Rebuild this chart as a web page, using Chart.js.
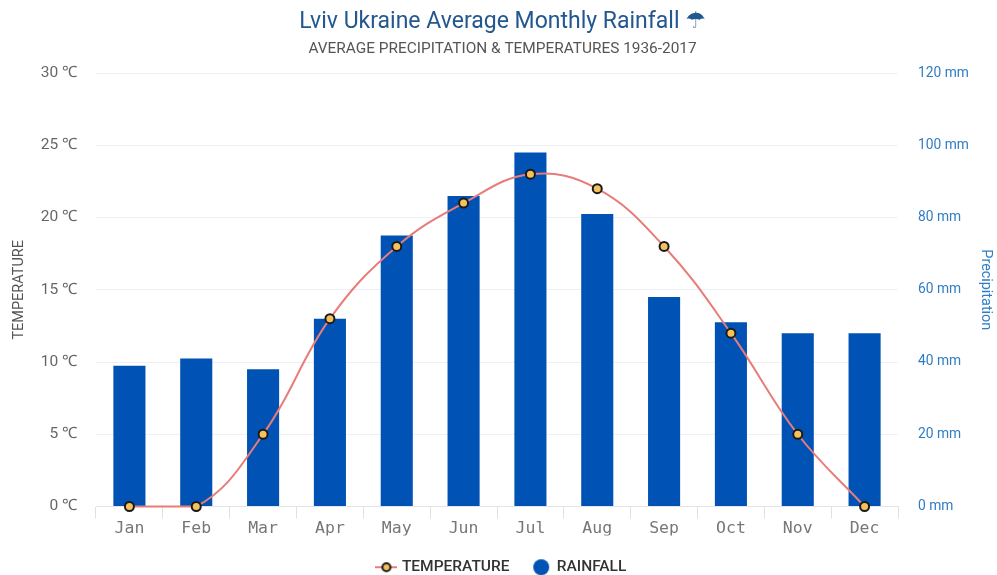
<!DOCTYPE html>
<html>
<head>
<meta charset="utf-8">
<style>html,body{margin:0;padding:0;background:#fff}canvas{display:block;filter:blur(0.4px)}</style>
<script src="https://cdn.jsdelivr.net/npm/chart.js@4"></script>
</head>
<body>
<canvas id="c" width="997" height="575"></canvas>
<script>
const months = ["Jan","Feb","Mar","Apr","May","Jun","Jul","Aug","Sep","Oct","Nov","Dec"];
const temperature = [0,0,5,13,18,21,23,22,18,12,5,0];
const rainfall = [39,41,38,52,75,86,98,81,58,51,48,48];
const titleText = "Lviv Ukraine Average Monthly Rainfall \u2602";
const subtitleText = "AVERAGE PRECIPITATION & TEMPERATURES 1936-2017";

function legendLineIcon(){
  const c=document.createElement('canvas');c.width=22;c.height=14;
  const g=c.getContext('2d');
  g.strokeStyle='#e87c78';g.lineWidth=2;g.beginPath();g.moveTo(0,7);g.lineTo(22,7);g.stroke();
  g.fillStyle='#f4c15d';g.strokeStyle='#1a1a1a';g.lineWidth=2;g.beginPath();g.arc(11,7,4,0,Math.PI*2);g.fill();g.stroke();
  return c;
}
function legendDotIcon(){
  const c=document.createElement('canvas');c.width=18;c.height=18;
  const g=c.getContext('2d');
  g.fillStyle='#0052b4';g.beginPath();g.arc(9,9,8,0,Math.PI*2);g.fill();
  return c;
}
new Chart(document.getElementById('c'),{
  data:{labels:months,datasets:[
    {type:'line',label:'TEMPERATURE',data:temperature,yAxisID:'y',order:0,borderColor:'#e87c78',borderWidth:2,tension:0.4,
     pointRadius:4.5,pointHoverRadius:4.5,pointBackgroundColor:'#f4c15d',pointBorderColor:'#1a1a1a',pointBorderWidth:2,clip:false,pointStyle:'circle'},
    {type:'bar',label:'RAINFALL',data:rainfall,yAxisID:'y1',order:1,backgroundColor:'#0052b4',barPercentage:0.48,categoryPercentage:1}
  ]},
  options:{
    responsive:false,animation:false,
    layout:{padding:{left:11,right:3,top:0,bottom:-10}},
    plugins:{
      title:{display:true,text:titleText,color:'#22578f',font:{family:'Roboto, "DejaVu Sans"',size:23,weight:'normal'},padding:{top:8,bottom:4}},
      subtitle:{display:true,text:subtitleText,color:'#555',font:{family:'Roboto',size:15.4,weight:'normal'},padding:{top:0,bottom:15}},
      legend:{position:'bottom',labels:{usePointStyle:true,boxHeight:14,padding:24,color:'#333',font:{family:'Roboto',size:15.5,weight:'500'},
        generateLabels(ch){return [
          {text:'TEMPERATURE',pointStyle:legendLineIcon(),fontColor:'#333',datasetIndex:0,lineWidth:0,strokeStyle:'transparent',fillStyle:'transparent'},
          {text:'RAINFALL',pointStyle:legendDotIcon(),fontColor:'#333',datasetIndex:1,lineWidth:0,strokeStyle:'transparent',fillStyle:'transparent'}
        ];}}},
      tooltip:{enabled:false}
    },
    scales:{
      x:{grid:{drawOnChartArea:false,drawTicks:true,tickLength:12,color:'#dfdfe6',offset:true},border:{color:'#e3e3ea'},
         ticks:{color:'#777',padding:0,maxRotation:0,font:{family:'"DejaVu Sans Mono","Liberation Mono",monospace',size:16.5}},
         afterFit(s){s.height=29;}},
      y:{position:'left',min:0,max:30,grid:{color:'#eef0f3',drawTicks:false},border:{display:false},
         title:{display:true,text:'TEMPERATURE',color:'#555',font:{family:'Roboto',size:14.5},padding:{top:0,bottom:0}},
         ticks:{stepSize:5,padding:19,color:'#666',font:{family:'Roboto',size:15.5},callback:v=>v+' \u2103'},
         afterFit(s){s.width=85;}},
      y1:{position:'right',min:0,max:120,grid:{drawOnChartArea:false,drawTicks:false},border:{display:false},
         title:{display:true,text:'Precipitation',color:'#2f7dc4',font:{family:'Roboto',size:14.4},padding:{top:0,bottom:0}},
         ticks:{stepSize:20,padding:20,color:'#2f7dc4',font:{family:'Roboto',size:13.8},callback:v=>v+' mm'},
         afterFit(s){s.width=96;}}
    }
  }
});
</script>
</body>
</html>
